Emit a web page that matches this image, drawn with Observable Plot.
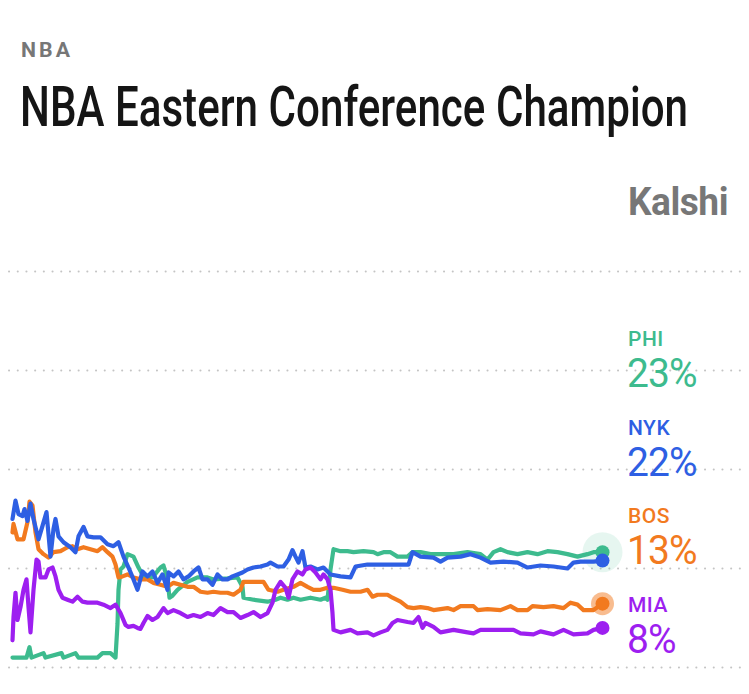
<!DOCTYPE html>
<html><head><meta charset="utf-8">
<script src="https://cdn.jsdelivr.net/npm/d3@7"></script>
<script src="https://cdn.jsdelivr.net/npm/@observablehq/plot@0.6"></script>
<style>
html,body{margin:0;padding:0;background:#fff;}
body{width:749px;height:694px;position:relative;overflow:hidden;font-family:Roboto,"Liberation Sans",sans-serif;}
#kicker{position:absolute;left:21px;top:40px;font-weight:700;font-size:21px;letter-spacing:3px;color:#777;line-height:1;white-space:nowrap;transform-origin:left top;}
#title{position:absolute;left:20px;top:80px;font-family:Roboto,sans-serif;font-size:55px;font-weight:500;color:#151515;line-height:1;white-space:nowrap;transform-origin:left top;}
#brand{position:absolute;left:628px;top:183px;font-family:Roboto,sans-serif;font-size:38px;font-weight:700;color:#777;line-height:1;white-space:nowrap;transform-origin:left top;letter-spacing:-0.5px;}
#chart{position:absolute;left:0;top:240px;}
.name{position:absolute;left:628px;font-size:21px;font-weight:500;line-height:1;letter-spacing:0.5px;}
.pct{position:absolute;left:627px;font-size:41px;font-weight:400;line-height:1;letter-spacing:-1px;white-space:nowrap;transform-origin:left top;}
</style></head>
<body>
<div id="kicker">NBA</div>
<div id="title">NBA Eastern Conference Champion</div>
<div id="brand">Kalshi</div>
<div id="chart"></div>
<div id="labels"></div>
<script>
// teams, current odds (%), colours
const teams = ["PHI", "NYK", "BOS", "MIA"];
const current = [23, 22, 13, 8];
const colors = ["#3dbb8e", "#2e5fe3", "#f27a1f", "#9d1ff0"];
const gridTicks = [0, 20, 40, 60, 80];

// [day index, chance %]
const PHI = [[0,2.0],[14,2.0],[17,4.1],[19,2.0],[31,2.9],[33,2.0],[49,2.9],[51,2.0],[63,2.9],[66,2.0],[85,2.0],[90,2.9],[98,2.9],[103,2.0],[105,8.8],[106,15.7],[108,19.8],[111,20.4],[115,22.9],[121,22.4],[126,20.2],[131,18.4],[140,18.2],[148,20.2],[151,20.6],[155,17.8],[157,14.1],[160,14.5],[165,15.7],[175,17.3],[185,18.2],[195,18.2],[201,17.8],[215,18.0],[225,18.2],[230,16.3],[231,14.1],[241,13.7],[255,13.3],[263,13.7],[268,14.1],[275,13.7],[281,14.1],[288,13.7],[298,14.1],[308,13.7],[313,14.1],[315,13.7],[318,19.8],[321,23.9],[328,23.5],[335,23.5],[341,23.3],[351,23.5],[361,23.3],[365,22.9],[371,23.3],[378,23.3],[385,22.4],[395,22.4],[400,23.3],[408,23.3],[418,22.9],[428,22.9],[441,22.9],[455,23.3],[468,22.9],[475,21.8],[481,23.3],[488,23.9],[495,23.3],[505,22.9],[515,23.3],[525,22.9],[535,23.5],[545,23.3],[555,22.9],[565,22.4],[575,22.9],[581,23.3],[590,23.3]];

const NYK = [[0,30.0],[3,33.7],[6,31.0],[10,30.6],[12,32.0],[15,29.6],[18,33.1],[21,30.0],[26,25.9],[30,28.6],[34,31.4],[38,22.4],[41,28.0],[43,30.0],[46,26.5],[51,25.3],[58,24.3],[63,23.3],[66,26.5],[71,28.4],[75,26.5],[81,26.3],[88,26.3],[95,24.9],[101,24.5],[106,25.3],[111,22.4],[116,20.2],[121,17.8],[125,15.7],[130,19.4],[135,18.4],[140,19.4],[145,17.1],[150,18.8],[155,15.7],[156,19.2],[161,18.4],[166,19.4],[171,17.8],[176,18.4],[181,19.4],[186,20.2],[190,17.8],[195,17.8],[200,16.7],[205,18.8],[210,17.8],[215,17.8],[220,18.4],[225,18.8],[230,19.2],[235,19.8],[241,20.2],[248,20.4],[255,20.8],[258,21.2],[265,20.4],[271,20.4],[276,21.8],[280,23.7],[283,22.4],[286,21.2],[290,23.5],[293,20.2],[298,20.4],[305,19.8],[311,20.2],[315,19.4],[318,18.8],[328,18.4],[338,18.2],[343,20.4],[355,20.8],[375,20.8],[396,20.8],[400,23.3],[408,22.4],[421,22.2],[428,21.4],[435,22.2],[448,22.4],[458,22.9],[468,22.2],[478,21.2],[491,21.4],[505,21.2],[515,20.2],[528,20.6],[541,20.4],[555,20.0],[561,21.2],[568,21.4],[581,21.4],[590,21.6]];

const BOS = [[0,27.3],[1,29.0],[5,25.9],[11,25.9],[15,29.4],[17,33.5],[20,32.7],[23,27.3],[26,23.9],[31,22.9],[36,22.2],[41,23.3],[48,23.5],[55,24.3],[60,24.5],[65,23.9],[71,24.3],[78,23.9],[85,23.5],[90,24.3],[95,23.3],[100,22.4],[103,20.8],[106,18.2],[110,18.4],[115,18.8],[121,18.2],[128,17.8],[135,17.8],[141,17.1],[148,16.7],[155,16.3],[161,17.1],[168,16.7],[175,16.3],[181,16.3],[188,15.3],[195,15.1],[201,15.3],[208,15.1],[215,15.1],[221,14.7],[228,15.7],[231,17.3],[241,17.3],[251,17.3],[256,15.7],[265,15.3],[271,15.7],[281,16.3],[288,17.1],[295,16.3],[301,15.7],[308,15.7],[315,16.1],[321,16.1],[330,15.7],[338,15.3],[348,15.3],[355,15.7],[360,14.3],[365,14.7],[375,14.7],[380,14.1],[388,13.3],[395,12.2],[401,12.0],[408,12.2],[415,12.0],[421,11.6],[435,12.0],[441,11.6],[448,12.4],[461,12.4],[465,11.6],[475,11.8],[488,11.6],[498,12.4],[505,11.6],[515,11.6],[520,12.4],[531,12.2],[541,12.4],[551,12.0],[558,13.1],[565,12.7],[571,11.6],[581,11.6],[590,12.9]];

const MIA = [[0,5.5],[1,10.2],[3,15.1],[5,9.6],[8,12.2],[11,15.7],[14,17.8],[16,12.2],[18,7.1],[21,15.7],[24,21.8],[26,21.4],[28,18.2],[33,18.2],[36,19.8],[40,20.2],[43,18.4],[46,15.7],[50,14.1],[55,13.7],[60,13.3],[65,14.3],[70,13.3],[75,13.1],[85,13.1],[91,12.7],[98,12.0],[103,12.7],[108,11.0],[113,8.6],[116,8.2],[121,8.4],[125,8.0],[128,7.8],[131,9.0],[135,10.4],[140,9.6],[145,10.2],[151,12.0],[155,11.0],[161,11.6],[168,11.0],[175,10.2],[181,10.6],[188,10.2],[195,11.0],[201,10.6],[208,12.0],[215,11.2],[221,11.2],[228,10.0],[235,10.6],[241,11.2],[248,10.2],[255,11.0],[260,13.1],[263,15.7],[268,17.3],[273,16.1],[276,14.1],[280,17.8],[285,19.4],[290,18.8],[293,19.8],[298,20.2],[303,19.2],[308,17.8],[311,18.8],[315,17.8],[318,15.7],[320,11.0],[321,7.6],[328,7.1],[338,7.6],[345,6.9],[355,7.1],[361,6.5],[368,7.1],[375,7.6],[380,9.0],[385,9.6],[395,9.2],[401,9.0],[406,10.2],[410,8.0],[413,9.0],[421,8.2],[428,7.1],[441,7.6],[455,7.1],[461,6.9],[468,7.6],[488,7.6],[501,7.6],[508,6.9],[521,6.7],[528,7.3],[541,6.7],[551,7.6],[561,6.7],[575,6.9],[581,7.6],[590,8.0]];

const seriesByTeam = {PHI, NYK, BOS, MIA};
const drawOrder = ["PHI", "BOS", "NYK", "MIA"];
const rows = drawOrder.flatMap(team => seriesByTeam[team].map(([t, v]) => ({team, t, v})));
const ends = drawOrder.map(team => { const p = seriesByTeam[team][seriesByTeam[team].length - 1]; return {team, t: p[0], v: p[1]}; });

const chart = Plot.plot({
  width: 749,
  height: 454,
  marginLeft: 12,
  marginRight: 147,
  marginTop: 31,
  marginBottom: 27,
  x: {domain: [0, 590], axis: null},
  y: {domain: [0, 80], axis: null},
  color: {domain: teams, range: colors},
  marks: [
    Plot.ruleY(gridTicks, {stroke: "#c4c4c4", strokeWidth: 2, strokeDasharray: "0.1 8.6", strokeLinecap: "round", insetLeft: -3, insetRight: -139}),
    Plot.dot(ends.filter(d => d.team === "PHI"), {x: "t", y: "v", r: 20, fill: "team", fillOpacity: 0.13}),
    Plot.line(rows, {x: "t", y: "v", z: "team", stroke: "team", strokeWidth: 4.2, strokeLinejoin: "round", strokeLinecap: "round"}),
    Plot.dot(ends.filter(d => d.team === "BOS"), {x: "t", y: "v", r: 11.5, fill: "team", fillOpacity: 0.5}),
    Plot.dot(ends, {x: "t", y: "v", r: 7, fill: "team"})
  ]
});
document.getElementById("chart").append(chart);

// right-hand legend with current odds
const lab = document.getElementById("labels");
teams.forEach((team, i) => {
  const top = 329 + i * 88.6;
  const n = document.createElement("div");
  n.className = "name"; n.style.top = top + "px"; n.style.color = colors[i]; n.textContent = team;
  const p = document.createElement("div");
  p.className = "pct"; p.style.top = (top + 24) + "px"; p.style.color = colors[i]; p.textContent = current[i] + "%";
  p.style.transform = "scaleX(0.95)";
  lab.append(n, p);
});

// condensed look: squeeze header texts to the reference widths
function fitWidth(id, w) {
  const el = document.getElementById(id);
  const cur = el.getBoundingClientRect().width;
  el.style.transform = `scaleX(${w / cur})`;
}
fitWidth("title", 668);
fitWidth("brand", 100);
fitWidth("kicker", 52);
</script>
</body></html>
